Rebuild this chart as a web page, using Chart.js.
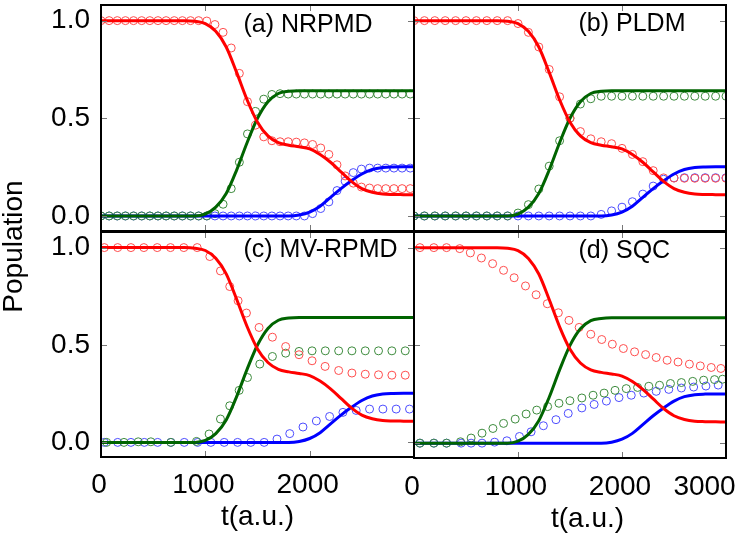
<!DOCTYPE html>
<html><head><meta charset="utf-8">
<script src="https://cdn.jsdelivr.net/npm/chart.js@4.4.1/dist/chart.umd.min.js"></script>
<style>
html,body{margin:0;padding:0;background:#fff;overflow:hidden;}
#wrap{position:relative;width:742px;height:543px;overflow:hidden;background:#fff;}
canvas{position:absolute;left:0;top:0;}
</style></head><body>
<div id="wrap">
<canvas id="ca" width="742" height="543"></canvas>
<canvas id="cb" width="742" height="543"></canvas>
<canvas id="cc" width="742" height="543"></canvas>
<canvas id="cd" width="761" height="543"></canvas>
</div>
<script>
// ---------- data ----------
const xTicks = [0, 1000, 2000, 3000];
const yTicks = [0, 0.5, 1.0];

// exact (solid lines), same in all panels
const tLine = [0,100,200,300,400,500,600,700,800,900,1000,1100,1200,1300,1400,1500,1600,1700,1800,1900,2000,2100,2200,2300,2400,2500,2600,2700,2800,2900,3000];
const redLine = [1,1,1,1,1,1,1,1,1,0.997,0.985,0.945,0.865,0.735,0.595,0.48,0.41,0.375,0.362,0.354,0.343,0.315,0.275,0.226,0.177,0.14,0.121,0.112,0.11,0.109,0.108];
const greenLine = [0,0,0,0,0,0,0,0,0,0,0.01,0.045,0.115,0.235,0.375,0.5,0.585,0.627,0.638,0.641,0.641,0.641,0.641,0.641,0.641,0.641,0.641,0.641,0.641,0.641,0.641];
const blueLine = [0,0,0,0,0,0,0,0,0,0,0,0,0,0,0,0,0,0,0,0.005,0.02,0.05,0.095,0.14,0.18,0.215,0.238,0.248,0.251,0.252,0.252];

// (a) NRPMD
const tA = [0,78,156,234,312,390,468,546,624,702,780,858,936,1014,1092,1170,1248,1326,1404,1482,1560,1638,1716,1794,1872,1950,2028,2106,2184,2262,2340,2418,2496,2574,2652,2730,2808,2886,2964];
const redA = [1,1,1,1,1,1,1,1,1,1,1,1,1,0.998,0.98,0.94,0.86,0.73,0.585,0.465,0.405,0.385,0.38,0.38,0.378,0.374,0.366,0.348,0.315,0.262,0.205,0.168,0.148,0.143,0.14,0.14,0.14,0.14,0.14];
const greenA = [0,0,0,0,0,0,0,0,0,0,0,0,0,0,0.012,0.06,0.14,0.275,0.42,0.535,0.598,0.622,0.626,0.624,0.624,0.624,0.624,0.624,0.624,0.624,0.624,0.624,0.624,0.624,0.624,0.624,0.624,0.624,0.624];
const blueA = [0,0,0,0,0,0,0,0,0,0,0,0,0,0,0,0,0,0,0,0,0,0,0,0,0,0,0.012,0.038,0.072,0.13,0.178,0.222,0.24,0.245,0.245,0.245,0.245,0.245,0.245];

// (b) PLDM
const tB = [0,100,200,300,400,500,600,700,800,900,1000,1100,1200,1300,1400,1500,1600,1700,1800,1900,2000,2100,2200,2300,2400,2500,2600,2700,2800,2900,3000];
const redB = [1,1,1,1,1,1,1,1,1,1,0.985,0.94,0.865,0.75,0.61,0.5,0.432,0.395,0.38,0.37,0.346,0.315,0.278,0.232,0.195,0.194,0.193,0.193,0.193,0.193,0.193];
const greenB = [0,0,0,0,0,0,0,0,0,0,0.015,0.058,0.138,0.255,0.385,0.5,0.573,0.6,0.613,0.613,0.613,0.613,0.613,0.613,0.613,0.613,0.613,0.613,0.613,0.613,0.613];
const blueB = [0,0,0,0,0,0,0,0,0,0,0,0,0,0,0,0,0,0,0.008,0.026,0.045,0.073,0.112,0.153,0.188,0.195,0.196,0.196,0.196,0.196,0.196];

// (c) MV-RPMD
const tCred = [32,160,287,411,539,666,794,922,1043,1145,1234,1314,1394,1515,1643,1770,1898,2023,2148,2278,2405,2533,2660,2788,2916];
const redC = [1,1,1,1,1,1,1,1,0.954,0.88,0.8,0.727,0.664,0.59,0.54,0.492,0.45,0.419,0.39,0.369,0.356,0.35,0.347,0.345,0.345];
const tCgreen = [54,220,357,478,670,915,1036,1145,1234,1324,1404,1522,1643,1770,1898,2023,2150,2278,2405,2533,2660,2788,2916];
const greenC = [0,0,0.003,0.003,0,0.005,0.043,0.12,0.188,0.267,0.333,0.402,0.441,0.458,0.467,0.47,0.47,0.47,0.47,0.47,0.47,0.47,0.47];
const tCblue = [32,160,287,415,543,670,798,926,1053,1181,1309,1436,1564,1687,1809,1936,2064,2191,2319,2446,2574,2702,2829,2957];
const blueC = [0,0,0,0,0,0,0,0,0,0,0,0,0,0.017,0.045,0.079,0.11,0.133,0.154,0.164,0.171,0.171,0.171,0.171];

// (d) SQC
const tDred = [57,191,313,440,542,648,756,861,963,1072,1174,1282,1388,1490,1588,1700,1805,1907,2013,2121,2227,2329,2434,2539,2648,2753,2858,2951];
const redD = [1,1,1,0.995,0.973,0.947,0.918,0.884,0.846,0.804,0.759,0.713,0.667,0.628,0.592,0.557,0.53,0.506,0.484,0.467,0.453,0.438,0.424,0.415,0.404,0.395,0.387,0.382];
const tDgreen = [57,191,313,447,549,654,759,861,973,1078,1180,1285,1394,1499,1614,1722,1828,1933,2041,2150,2258,2361,2466,2571,2680,2785,2890,2967];
const greenD = [0,0,0,0.007,0.026,0.051,0.075,0.101,0.123,0.149,0.169,0.187,0.204,0.217,0.231,0.245,0.256,0.27,0.279,0.285,0.291,0.296,0.305,0.31,0.316,0.322,0.325,0.327];
const tDblue = [57,191,313,453,549,654,775,893,1014,1126,1244,1365,1483,1614,1732,1850,1971,2089,2210,2329,2450,2571,2689,2807,2925];
const blueD = [0,0,0,0,0,0,0.005,0.012,0.034,0.058,0.089,0.12,0.152,0.18,0.198,0.215,0.233,0.245,0.256,0.265,0.275,0.282,0.287,0.292,0.297];

// ---------- styling / helpers ----------
const FONT = "'Liberation Sans', Arial, Helvetica, sans-serif";
Chart.defaults.font.family = FONT;
Chart.defaults.color = '#000';

const zip = (xs, ys) => xs.map((x, i) => ({x: x, y: ys[i]}));
function lineDs(vals, color) {
  return {data: zip(tLine, vals), borderColor: color, borderWidth: 3, pointRadius: 0,
          cubicInterpolationMode: 'monotone', fill: false, order: 0};
}
function markDs(ts, vals, color) {
  return {data: zip(ts, vals), showLine: false, pointRadius: 4, pointBorderWidth: 1,
          pointBorderColor: color, pointBackgroundColor: 'rgba(0,0,0,0)',
          borderColor: color, backgroundColor: 'rgba(0,0,0,0)', pointStyle: 'circle', order: 1};
}
function datasets(r, g, b) {
  return [lineDs(redLine, '#ff0000'), lineDs(greenLine, '#006400'), lineDs(blueLine, '#0000ff'),
          markDs(r[0], r[1], '#ff4d4d'), markDs(g[0], g[1], '#3d8b3d'), markDs(b[0], b[1], '#4d4dff')];
}
function zeroPad(s) { s.paddingLeft = 0; s.paddingRight = 0; s.paddingTop = 0; s.paddingBottom = 0; }

function xScale(o) {
  return {
    type: 'linear', min: 0, max: 3000,
    grid: {display: false, drawTicks: false}, border: {display: false},
    ticks: {display: !!o.labels, font: {size: 28}, color: '#000', padding: o.pad || 11,
            autoSkip: false, maxRotation: 0, minRotation: 0, labelOffset: -2,
            callback: o.cb || (v => String(v))},
    title: o.title ? {display: true, text: 't(a.u.)', font: {size: 28}, color: '#000', padding: {top: 0, bottom: 9}} : {display: false},
    afterBuildTicks: s => { s.ticks = xTicks.map(v => ({value: v})); },
    afterFit: s => { s.height = o.height; zeroPad(s); }
  };
}
function yScale(o) {
  return {
    type: 'linear', min: o.min, max: o.max, position: o.position || 'left',
    grid: {display: false, drawTicks: false}, border: {display: false},
    ticks: {display: !!o.labels, font: {size: 28}, color: '#000', padding: 11,
            callback: v => Number(v).toFixed(1)},
    afterBuildTicks: s => { s.ticks = yTicks.map(v => ({value: v})); },
    afterFit: s => { s.width = o.width; zeroPad(s); }
  };
}

const framePlugin = {
  id: 'frame',
  afterDatasetsDraw(chart, args, opts) {
    const ctx = chart.ctx, a = chart.chartArea, xs = chart.scales.x, ys = chart.scales.y;
    ctx.save();
    ctx.strokeStyle = '#777'; ctx.lineWidth = 1;
    ctx.beginPath();
    xs.ticks.forEach(t => {
      const px = Math.round(xs.getPixelForValue(t.value)) + 0.5;
      ctx.moveTo(px, a.bottom); ctx.lineTo(px, a.bottom - 6);
      ctx.moveTo(px, a.top); ctx.lineTo(px, a.top + 6);
    });
    ys.ticks.forEach(t => {
      const py = Math.round(ys.getPixelForValue(t.value)) + 0.5;
      ctx.moveTo(a.left, py); ctx.lineTo(a.left + 6, py);
      ctx.moveTo(a.right, py); ctx.lineTo(a.right - 6, py);
    });
    ctx.stroke();
    ctx.strokeStyle = '#000'; ctx.lineWidth = 2;
    ctx.strokeRect(a.left, a.top, a.right - a.left, a.bottom - a.top);
    if (opts && opts.text) {
      ctx.fillStyle = '#000'; ctx.font = '25px ' + FONT;
      ctx.textAlign = 'left'; ctx.textBaseline = 'alphabetic';
      ctx.fillText(opts.text, a.left + opts.dx, a.top + opts.dy);
    }
    ctx.restore();
  }
};

function baseOptions(padding, scales, plugins) {
  return {
    responsive: false, animation: false, devicePixelRatio: 1, events: [],
    layout: {padding: padding},
    plugins: Object.assign({legend: {display: false}, tooltip: {enabled: false}}, plugins),
    scales: scales
  };
}

// (a) top-left
new Chart(document.getElementById('ca'), {
  type: 'line',
  data: {datasets: datasets([tA, redA], [tA, greenA], [tA, blueA])},
  options: baseOptions({left: 0, top: 5, right: 328, bottom: 55},
    {x: xScale({labels: false, height: 257}), y: yScale({labels: true, width: 73, min: -0.077, max: 1.08})},
    {title: {display: true, text: 'Population', position: 'left', font: {size: 28, lineHeight: 1, weight: 'normal'}, padding: 0, color: '#000'},
     frame: {text: '(a) NRPMD', dx: 142.5, dy: 26.5}}),
  plugins: [framePlugin]
});

// (b) top-right
new Chart(document.getElementById('cb'), {
  type: 'line',
  data: {datasets: datasets([tB, redB], [tB, greenB], [tB, blueB])},
  options: baseOptions({left: 414, top: 5, right: 16, bottom: 312},
    {x: xScale({labels: false, height: 0}), y: yScale({labels: false, width: 0, min: -0.077, max: 1.08})},
    {frame: {text: '(b) PLDM', dx: 164.5, dy: 25.5}}),
  plugins: [framePlugin]
});

// (c) bottom-left
new Chart(document.getElementById('cc'), {
  type: 'line',
  data: {datasets: datasets([tCred, redC], [tCgreen, greenC], [tCblue, blueC])},
  options: baseOptions({left: 28, top: 232, right: 328, bottom: 0},
    {x: xScale({labels: true, height: 86, pad: 11, title: true, cb: v => (v === 3000 ? '' : String(v))}),
     y: yScale({labels: true, width: 73, min: -0.075, max: 1.08})},
    {frame: {text: '(c) MV-RPMD', dx: 142.5, dy: 25.3}}),
  plugins: [framePlugin]
});

// (d) bottom-right (canvas wider than the page so the title sits where it does in the figure)
new Chart(document.getElementById('cd'), {
  type: 'line',
  data: {datasets: datasets([tDred, redD], [tDgreen, greenD], [tDblue, blueD])},
  options: baseOptions({left: 414, top: 232, right: 0, bottom: 0},
    {x: xScale({labels: true, height: 44.4, pad: 12, cb: v => (v === 3000 ? '3000     ' : String(v))}),
     y: yScale({labels: false, width: 35, min: -0.076, max: 1.08, position: 'right'})},
    {title: {display: true, text: 't(a.u.)', position: 'bottom', font: {size: 28, lineHeight: 1.2, weight: 'normal'}, padding: {top: 0, bottom: 7}, color: '#000'},
     frame: {text: '(d) SQC', dx: 164.5, dy: 25.5}}),
  plugins: [framePlugin]
});
</script>
</body></html>
